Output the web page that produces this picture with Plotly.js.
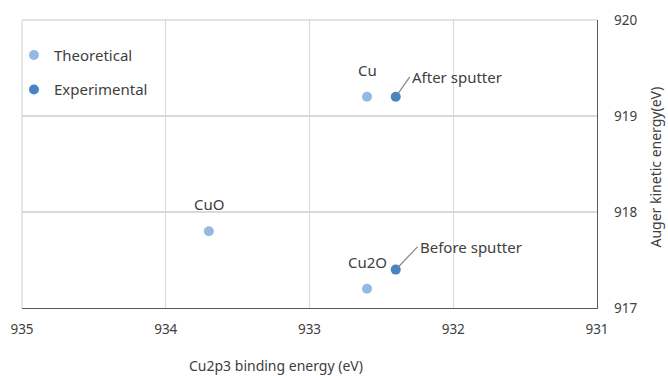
<!DOCTYPE html>
<html><head><meta charset="utf-8">
<script src="https://cdn.plot.ly/plotly-3.0.1.min.js"></script>
<style>html,body{margin:0;padding:0;background:#fff}#chart{width:668px;height:376px}</style>
</head><body><div id="chart"></div>
<script>
// Theoretical reference points
const theoNames = ["Cu", "CuO", "Cu2O"];
const theoBinding = [932.6, 933.7, 932.6];
const theoAuger = [919.2, 917.8, 917.2];
// Experimental points
const expNames = ["After sputter", "Before sputter"];
const expBinding = [932.4, 932.4];
const expAuger = [919.2, 917.4];
// Axis ticks
const xTicks = [935, 934, 933, 932, 931];
const yTicks = [917, 918, 919, 920];

const FONT = "'Noto Sans', 'Open Sans', sans-serif";
const textColor = "#404040";

const traces = [
  {x: theoBinding, y: theoAuger, type: "scatter", mode: "markers", name: "Theoretical",
   legendgroup: "a", marker: {size: 10, color: "#95B9E3"}, hoverinfo: "skip"},
  {x: expBinding, y: expAuger, type: "scatter", mode: "markers", name: "Experimental",
   legendgroup: "b", marker: {size: 10, color: "#4A84C0"}, hoverinfo: "skip"}
];

const annotations = [];
theoNames.forEach((n, i) => annotations.push({
  x: theoBinding[i], y: theoAuger[i], xref: "x", yref: "y", text: n, showarrow: false,
  yshift: 27, font: {family: FONT, size: 15, color: textColor}
}));
const expOffsets = [[14, -20], [22, -23]];
expNames.forEach((n, i) => annotations.push({
  x: expBinding[i], y: expAuger[i], xref: "x", yref: "y", text: n, showarrow: true,
  arrowhead: 0, arrowwidth: 1.3, arrowcolor: "#8c8c8c", standoff: 4,
  ax: expOffsets[i][0], ay: expOffsets[i][1], xanchor: "left", yanchor: "middle",
  font: {family: FONT, size: 15, color: textColor}
}));
annotations.push({xref: "paper", yref: "paper", x: 0.441, y: -0.198, xanchor: "center", yanchor: "middle",
  text: "Cu2p3 binding energy (eV)", showarrow: false, font: {family: FONT, size: 14, color: textColor}});
annotations.push({xref: "paper", yref: "paper", x: 1.102, y: 0.49, xanchor: "center", yanchor: "middle",
  textangle: -90, text: "Auger kinetic energy(eV)", showarrow: false, font: {family: FONT, size: 14, color: textColor}});

const layout = {
  width: 668, height: 376,
  margin: {l: 22, r: 71, t: 20, b: 68},
  paper_bgcolor: "#fff", plot_bgcolor: "#fff",
  font: {family: FONT, size: 13, color: textColor},
  showlegend: true,
  legend: {x: -0.014, y: 0.935, xanchor: "left", yanchor: "top", bgcolor: "rgba(0,0,0,0)",
           traceorder: "grouped", tracegroupgap: 12, font: {family: FONT, size: 15, color: textColor},
           itemwidth: 30},
  xaxis: {range: [935, 931], tickvals: xTicks, ticktext: xTicks.map(String),
          showgrid: true, gridcolor: "#d9d9d9", gridwidth: 1.3, zeroline: false,
          showline: true, linecolor: "#595959", linewidth: 1.3, ticks: "", ticklabelstandoff: 8,
          tickfont: {family: FONT, size: 13.5, color: textColor}},
  yaxis: {range: [917, 920], side: "right", tickvals: yTicks, ticktext: yTicks.map(String),
          showgrid: true, gridcolor: "#d9d9d9", gridwidth: 1.3, zeroline: false,
          showline: true, linecolor: "#595959", linewidth: 1.3, ticks: "", ticklabelstandoff: 13,
          tickfont: {family: FONT, size: 13.5, color: textColor}},
  shapes: [
    {type: "line", xref: "paper", yref: "paper", x0: 0, x1: 0, y0: 0, y1: 1, layer: "below",
     line: {color: "#d9d9d9", width: 1.3}},
    {type: "line", xref: "paper", yref: "paper", x0: 0, x1: 1, y0: 1, y1: 1, layer: "below",
     line: {color: "#d9d9d9", width: 1.3}}
  ],
  annotations: annotations
};
Plotly.newPlot("chart", traces, layout, {displayModeBar: false, staticPlot: true});
</script></body></html>
